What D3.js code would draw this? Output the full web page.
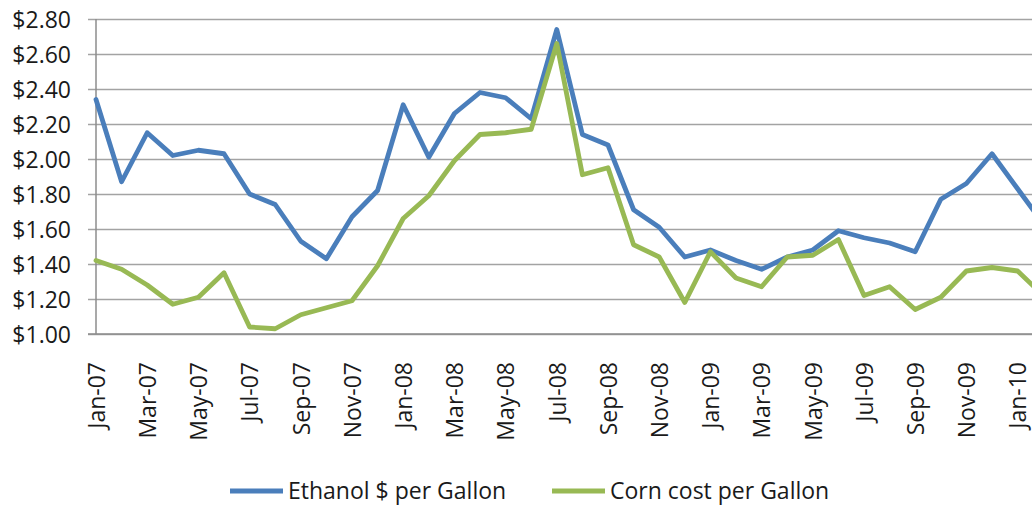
<!DOCTYPE html>
<html>
<head>
<meta charset="utf-8">
<script src="https://cdn.jsdelivr.net/npm/d3@7"></script>
<style>
  html, body { margin: 0; padding: 0; background: #fff; }
  svg { display: block; }
  text { font-family: "Open Sans", "DejaVu Sans", sans-serif; fill: #1a1a1a; }
</style>
</head>
<body>
<svg id="chart" width="1032" height="506"></svg>
<script>
const months = ["Jan-07","Feb-07","Mar-07","Apr-07","May-07","Jun-07","Jul-07","Aug-07","Sep-07","Oct-07","Nov-07","Dec-07",
                "Jan-08","Feb-08","Mar-08","Apr-08","May-08","Jun-08","Jul-08","Aug-08","Sep-08","Oct-08","Nov-08","Dec-08",
                "Jan-09","Feb-09","Mar-09","Apr-09","May-09","Jun-09","Jul-09","Aug-09","Sep-09","Oct-09","Nov-09","Dec-09",
                "Jan-10","Feb-10"];
const ethanol = [2.34,1.87,2.15,2.02,2.05,2.03,1.80,1.74,1.53,1.43,1.67,1.82,
                 2.31,2.01,2.26,2.38,2.35,2.23,2.74,2.14,2.08,1.71,1.61,1.44,
                 1.48,1.42,1.37,1.44,1.48,1.59,1.55,1.52,1.47,1.77,1.86,2.03,
                 1.83,1.63];
const corn = [1.42,1.37,1.28,1.17,1.21,1.35,1.04,1.03,1.11,1.15,1.19,1.39,
              1.66,1.79,1.99,2.14,2.15,2.17,2.66,1.91,1.95,1.51,1.44,1.18,
              1.47,1.32,1.27,1.44,1.45,1.54,1.22,1.27,1.14,1.21,1.36,1.38,
              1.36,1.22];
const yTicks = [1.0,1.2,1.4,1.6,1.8,2.0,2.2,2.4,2.6,2.8];
const xTickLabels = months.filter((m, i) => i % 2 === 0 && i <= 36);
const seriesNames = ["Ethanol $ per Gallon", "Corn cost per Gallon"];
const seriesColors = ["#4a7ebb", "#98b954"];

const svg = d3.select("#chart");
const plotLeft = 96, plotTop = 19, plotBottom = 334;
const step = 25.6;
const x = d3.scalePoint().domain(months).range([plotLeft, plotLeft + step * (months.length - 1)]);
const y = d3.scaleLinear().domain([1.0, 2.8]).range([plotBottom, plotTop]);
const plotRight = x(months[months.length - 1]);

// gridlines + y axis
const yAxis = d3.axisLeft(y).tickValues(yTicks).tickSize(-(plotRight - 88)).tickPadding(0)
  .tickFormat(d => "$" + d.toFixed(2));
const gy = svg.append("g").attr("transform", `translate(88,0)`).call(yAxis);
gy.select(".domain").remove();
gy.selectAll(".tick line").attr("stroke", "#a3a3a3").attr("stroke-width", 1.5);
gy.selectAll(".tick text").attr("x", -17).attr("dy", "0.36em")
  .style("font-size", "23px").attr("text-anchor", "end");

// vertical axis line
svg.append("line").attr("x1", plotLeft).attr("x2", plotLeft).attr("y1", plotTop).attr("y2", plotBottom)
  .attr("stroke", "#8c8c8c").attr("stroke-width", 1.5);
// bottom axis line
svg.append("line").attr("x1", 88).attr("x2", plotRight).attr("y1", plotBottom).attr("y2", plotBottom)
  .attr("stroke", "#8c8c8c").attr("stroke-width", 1.5);

// x axis labels
const xAxis = d3.axisBottom(x).tickValues(xTickLabels).tickSize(0);
const gx = svg.append("g").attr("transform", `translate(0,${plotBottom})`).call(xAxis);
gx.select(".domain").remove();
gx.selectAll(".tick text")
  .attr("transform", "rotate(-90)")
  .attr("x", -28).attr("y", 0).attr("dy", "0.36em")
  .attr("text-anchor", "end")
  .style("font-size", "23px");

// lines
const line = d3.line().x((d, i) => x(months[i])).y(d => y(d));
[ethanol, corn].forEach((s, k) => {
  svg.append("path").datum(s).attr("d", line)
    .attr("fill", "none").attr("stroke", seriesColors[k])
    .attr("stroke-width", 4.8).attr("stroke-linejoin", "round").attr("stroke-linecap", "round");
});

// legend
const legendX = [230, 552];
seriesNames.forEach((name, k) => {
  const g = svg.append("g").attr("transform", `translate(${legendX[k]},491)`);
  g.append("line").attr("x1", 0).attr("x2", 53).attr("y1", 0).attr("y2", 0)
    .attr("stroke", seriesColors[k]).attr("stroke-width", 4.8);
  g.append("text").attr("x", 58).attr("y", 0).attr("dy", "0.36em")
    .style("font-size", "23px").text(name);
});
</script>
</body>
</html>
